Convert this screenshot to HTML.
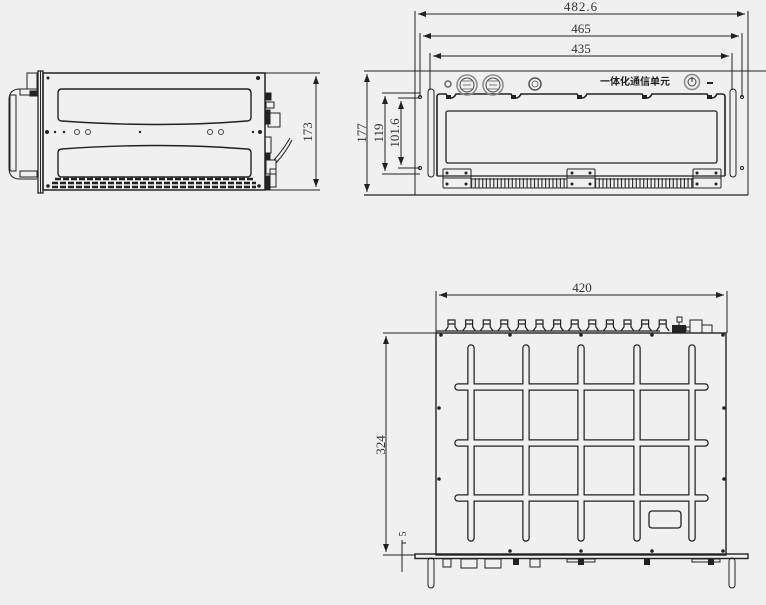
<!DOCTYPE html>
<html><head><meta charset="utf-8"><style>
html,body{margin:0;padding:0;background:#f0f0f0;}
svg{display:block;}
text{font-family:"Liberation Serif",serif;fill:#333;}
</style></head><body>
<svg width="766" height="605" viewBox="0 0 766 605" xmlns="http://www.w3.org/2000/svg">
<defs>
<marker id="a" markerWidth="8" markerHeight="6" refX="8" refY="3" orient="auto-start-reverse" markerUnits="userSpaceOnUse"><path d="M0,0 L8,3 L0,6 z" fill="#222"/></marker>
</defs>
<g stroke="#222" fill="none" stroke-width="1">
<!-- ========== SIDE VIEW ========== -->
<rect x="43" y="73" width="222" height="117" stroke-width="1.5"/>
<rect x="38" y="71" width="5" height="122" stroke-width="1.3"/>
<line x1="40.5" y1="71" x2="40.5" y2="193"/>
<path d="M37,89 H20 Q9,89 9,100 V168 Q9,179 20,179 H37"/>
<rect x="20" y="89" width="17" height="6"/>
<rect x="20" y="171" width="17" height="6"/>
<rect x="10" y="95" width="6" height="76"/>
<rect x="27" y="73" width="10" height="16"/>
<rect x="30" y="91" width="7" height="5" fill="#222"/>
<path d="M62,89 H247 Q251,89 251,93 V117 Q251,121 247,121 Q160,128 62,121 Q58,121 58,117 V93 Q58,89 62,89 Z" stroke-width="1.4"/>
<path d="M62,177 H247 Q251,177 251,173 V153 Q251,149 247,149 Q160,142 62,149 Q58,149 58,153 V173 Q58,177 62,177 Z" stroke-width="1.4"/>
<line x1="55" y1="179" x2="253" y2="179" stroke-width="2.6" stroke-dasharray="6,2"/>
<line x1="52" y1="183" x2="256" y2="183" stroke-width="2.6" stroke-dasharray="6,2"/>
<line x1="52" y1="187" x2="256" y2="187" stroke-width="2.6" stroke-dasharray="6,2"/>
<rect x="265" y="93" width="6" height="7" fill="#222"/>
<rect x="266" y="102" width="8" height="6"/>
<rect x="265" y="110" width="5" height="14" fill="#222"/>
<rect x="268" y="113" width="12" height="14"/>
<rect x="265" y="137" width="6" height="16"/>
<rect x="265" y="153" width="5" height="6" fill="#222"/>
<rect x="266" y="160" width="10" height="14"/>
<rect x="270" y="169" width="6" height="18"/>
<rect x="265" y="176" width="5" height="14" fill="#222"/>
<path d="M274,160 Q283,150 290,138 M276,163 Q286,152 292,140"/>
<line x1="265" y1="73" x2="320" y2="73"/>
<line x1="265" y1="190" x2="320" y2="190"/>
<line x1="316" y1="76" x2="316" y2="187" marker-start="url(#a)" marker-end="url(#a)"/>
</g>
<g fill="#222">
<circle cx="48" cy="78" r="1.5"/><circle cx="258" cy="78" r="2"/>
<circle cx="47" cy="132" r="2"/><circle cx="55" cy="132" r="1.2"/><circle cx="64" cy="132" r="1.2"/>
<circle cx="140" cy="132" r="1.2"/><circle cx="253" cy="132" r="1.2"/><circle cx="260" cy="132" r="2"/>
<circle cx="48" cy="186" r="1.8"/><circle cx="259" cy="186" r="1.8"/>
</g>
<g fill="none" stroke="#444"><circle cx="77" cy="132" r="2.5"/><circle cx="88" cy="132" r="2.5"/><circle cx="210" cy="132" r="2.5"/><circle cx="221" cy="132" r="2.5"/></g>
<text x="0" y="0" font-size="13" text-anchor="middle" transform="translate(312 132) rotate(-90)">173</text>

<!-- ========== FRONT VIEW ========== -->
<g stroke="#222" fill="none" stroke-width="1">
<line x1="415" y1="11" x2="415" y2="195"/>
<line x1="748" y1="11" x2="748" y2="195"/>
<line x1="418" y1="14" x2="745" y2="14" marker-start="url(#a)" marker-end="url(#a)"/>
<line x1="420" y1="33" x2="420" y2="97"/>
<line x1="742" y1="33" x2="742" y2="97"/>
<line x1="423" y1="36" x2="739" y2="36" marker-start="url(#a)" marker-end="url(#a)"/>
<line x1="430" y1="53" x2="430" y2="90"/>
<line x1="732" y1="53" x2="732" y2="90"/>
<line x1="433" y1="56" x2="729" y2="56" marker-start="url(#a)" marker-end="url(#a)"/>
<line x1="364" y1="71" x2="766" y2="71"/>
<line x1="364" y1="195" x2="748" y2="195" stroke-width="1.3"/>
<line x1="367" y1="74" x2="367" y2="192" marker-start="url(#a)" marker-end="url(#a)"/>
<line x1="382" y1="93" x2="420" y2="93"/>
<line x1="382" y1="174" x2="420" y2="174"/>
<line x1="385" y1="96" x2="385" y2="171" marker-start="url(#a)" marker-end="url(#a)"/>
<line x1="398" y1="98" x2="420" y2="98"/>
<line x1="398" y1="168" x2="420" y2="168"/>
<line x1="401" y1="101" x2="401" y2="165" marker-start="url(#a)" marker-end="url(#a)"/>
<rect x="428" y="89" width="6" height="88" rx="3"/>
<rect x="730" y="89" width="6" height="88" rx="3"/>
<circle cx="420" cy="97" r="1.5"/><circle cx="420" cy="168" r="1.5"/>
<circle cx="742" cy="97" r="1.5"/><circle cx="742" cy="168" r="1.5"/>
<path d="M437,176 V97 Q437,94 440,94 H446 Q448,98 451,98 Q454,98 456,94 H511 Q513,98 516,98 Q519,98 521,94 H577 Q579,98 582,98 Q585,98 587,94 H642 Q644,98 647,98 Q650,98 652,94 H707 Q709,98 712,98 Q715,98 717,94 H722 Q725,94 725,97 V176" stroke-width="1.6"/>
<line x1="437" y1="176" x2="725" y2="176" stroke-width="1.3"/>
<rect x="446" y="111" width="271" height="52" rx="2" stroke-width="1.3"/>
<rect x="443" y="169" width="28" height="19" rx="1"/>
<line x1="443" y1="178" x2="471" y2="178"/>
<rect x="567" y="169" width="28" height="19" rx="1"/>
<line x1="567" y1="178" x2="595" y2="178"/>
<rect x="693" y="169" width="28" height="19" rx="1"/>
<line x1="693" y1="178" x2="721" y2="178"/>
<path d="M471,179 H567 M595,179 H693 M471,188 H567 M595,188 H693" />
<line x1="471" y1="183" x2="567" y2="183" stroke-width="10" stroke-dasharray="1.2,2.5" stroke="#333"/>
<line x1="595" y1="183" x2="693" y2="183" stroke-width="10" stroke-dasharray="1.2,2.5" stroke="#333"/>
<circle cx="448" cy="84" r="3" stroke="#666" stroke-width="1.5"/>
<circle cx="467" cy="85" r="10" stroke="#888" stroke-width="1.5"/>
<circle cx="467" cy="85" r="7" stroke="#444"/>
<circle cx="493" cy="85" r="10" stroke="#888" stroke-width="1.5"/>
<circle cx="493" cy="85" r="7" stroke="#444"/>
<circle cx="535" cy="84" r="6" stroke="#555" stroke-width="1.5"/>
<circle cx="692" cy="82" r="7.5" stroke="#888" stroke-width="1.5"/>
<circle cx="692" cy="82" r="4" stroke="#444"/>
<line x1="692" y1="77" x2="692" y2="82"/>
<line x1="707" y1="83" x2="713" y2="83" stroke-width="2"/>
</g>
<g stroke="#555" fill="none" stroke-width="0.8">
<path d="M462,81 H472 M462,89 H472 M463,85 H471 M488,81 H498 M488,89 H498 M489,85 H497"/>
<circle cx="535" cy="84" r="3"/>
</g>
<g fill="#222">
<rect x="446" y="95" width="5" height="4"/><rect x="511" y="95" width="5" height="4"/><rect x="577" y="95" width="5" height="4"/>
<rect x="642" y="95" width="5" height="4"/><rect x="707" y="95" width="5" height="4"/>
<circle cx="447" cy="173" r="1.5"/><circle cx="466" cy="173" r="1.5"/><circle cx="447" cy="184" r="1.5"/><circle cx="466" cy="184" r="1.5"/>
<circle cx="572" cy="173" r="1.5"/><circle cx="590" cy="173" r="1.5"/><circle cx="572" cy="184" r="1.5"/><circle cx="590" cy="184" r="1.5"/>
<circle cx="697" cy="173" r="1.5"/><circle cx="716" cy="173" r="1.5"/><circle cx="697" cy="184" r="1.5"/><circle cx="716" cy="184" r="1.5"/>
</g>
<text x="635" y="85" font-size="10" font-weight="bold" text-anchor="middle" style="font-family:'Liberation Sans','Noto Sans CJK SC',sans-serif;fill:#222">一体化通信单元</text>
<text x="581" y="11" font-size="13" text-anchor="middle" letter-spacing="1">482.6</text>
<text x="581" y="33" font-size="13" text-anchor="middle">465</text>
<text x="581" y="53" font-size="13" text-anchor="middle">435</text>
<text x="0" y="0" font-size="13" text-anchor="middle" transform="translate(366 133) rotate(-90)">177</text>
<text x="0" y="0" font-size="13" text-anchor="middle" transform="translate(383 133) rotate(-90)">119</text>
<text x="0" y="0" font-size="13" text-anchor="middle" transform="translate(399 133) rotate(-90)">101.6</text>

<!-- ========== TOP VIEW ========== -->
<g stroke="#222" fill="none" stroke-width="1">
<line x1="436" y1="291" x2="436" y2="555"/>
<line x1="727" y1="291" x2="727" y2="333"/>
<line x1="439" y1="295" x2="724" y2="295" marker-start="url(#a)" marker-end="url(#a)"/>
<line x1="383" y1="333" x2="436" y2="333"/>
<line x1="383" y1="555" x2="415" y2="555"/>
<line x1="386" y1="336" x2="386" y2="552" marker-start="url(#a)" marker-end="url(#a)"/>
<line x1="402" y1="540" x2="402" y2="572"/>
<line x1="402" y1="543" x2="406" y2="543"/>
<rect x="436" y="333" width="290" height="222" stroke-width="1.4"/>
<rect x="415" y="554" width="333" height="4.5" stroke-width="1.4"/>
<rect x="428" y="558" width="6" height="30" rx="3"/>
<rect x="729" y="558" width="6" height="30" rx="3"/>
<line x1="436" y1="331" x2="660" y2="331" stroke-width="1.3"/>
<rect x="677" y="317" width="5" height="5"/>
<line x1="679" y1="322" x2="679" y2="326"/>
<rect x="690" y="320" width="12" height="13"/>
<rect x="702" y="325" width="10" height="8"/>
<rect x="686" y="327" width="4" height="4"/>
<g stroke="#222" stroke-width="7.5" stroke-linecap="round">
<line x1="471" y1="348" x2="471" y2="538"/><line x1="526" y1="348" x2="526" y2="538"/><line x1="581" y1="348" x2="581" y2="538"/><line x1="637" y1="348" x2="637" y2="538"/><line x1="692" y1="348" x2="692" y2="538"/>
<line x1="458" y1="387" x2="705" y2="387"/><line x1="458" y1="443" x2="705" y2="443"/><line x1="458" y1="498" x2="705" y2="498"/>
</g>
<g stroke="#f0f0f0" stroke-width="5" stroke-linecap="round">
<line x1="471" y1="348" x2="471" y2="538"/><line x1="526" y1="348" x2="526" y2="538"/><line x1="581" y1="348" x2="581" y2="538"/><line x1="637" y1="348" x2="637" y2="538"/><line x1="692" y1="348" x2="692" y2="538"/>
<line x1="458" y1="387" x2="705" y2="387"/><line x1="458" y1="443" x2="705" y2="443"/><line x1="458" y1="498" x2="705" y2="498"/>
</g>
<rect x="649" y="511" width="32" height="17" rx="3" stroke-width="1.3"/>
<rect x="443" y="559" width="8" height="8"/>
<rect x="461" y="559" width="16" height="9"/>
<rect x="485" y="559" width="16" height="9"/>
<rect x="530" y="559" width="10" height="8"/>
<rect x="567" y="559" width="28" height="3"/>
<rect x="692" y="559" width="28" height="3"/>
</g>
<g fill="#222">
<rect x="513" y="558" width="6" height="7"/><rect x="578" y="558" width="6" height="7"/><rect x="644" y="558" width="6" height="7"/><rect x="708" y="558" width="6" height="7"/>
<circle cx="441" cy="335" r="1.8"/><circle cx="510" cy="335" r="1.8"/><circle cx="581" cy="335" r="1.8"/><circle cx="652" cy="335" r="1.8"/><circle cx="723" cy="335" r="1.8"/>
<circle cx="439" cy="408" r="1.8"/><circle cx="724" cy="408" r="1.8"/><circle cx="439" cy="479" r="1.8"/><circle cx="724" cy="479" r="1.8"/>
<circle cx="510" cy="551" r="1.8"/><circle cx="581" cy="551" r="1.8"/><circle cx="652" cy="551" r="1.8"/><circle cx="723" cy="551" r="1.8"/>
<rect x="672" y="325" width="14" height="8"/>
</g>
<g fill="none" stroke="#222" stroke-width="1.2">
<path d="M445,331 L448,327 V320 H455 V327 L458,331 M462.6,331 L465.6,327 V320 H472.6 V327 L475.6,331 M480.2,331 L483.2,327 V320 H490.2 V327 L493.2,331 M497.8,331 L500.8,327 V320 H507.8 V327 L510.8,331 M515.4,331 L518.4,327 V320 H525.4 V327 L528.4,331 M533,331 L536,327 V320 H543 V327 L546,331 M550.6,331 L553.6,327 V320 H560.6 V327 L563.6,331 M568.2,331 L571.2,327 V320 H578.2 V327 L581.2,331 M585.8,331 L588.8,327 V320 H595.8 V327 L598.8,331 M603.4,331 L606.4,327 V320 H613.4 V327 L616.4,331 M621,331 L624,327 V320 H631 V327 L634,331 M638.6,331 L641.6,327 V320 H648.6 V327 L651.6,331 M656.2,331 L659.2,327 V320 H666.2 V327 L669.2,331"/>
<path d="M448,324 H455 M465.6,324 H472.6 M483.2,324 H490.2 M500.8,324 H507.8 M518.4,324 H525.4 M536,324 H543 M553.6,324 H560.6 M571.2,324 H578.2 M588.8,324 H595.8 M606.4,324 H613.4 M624,324 H631 M641.6,324 H648.6 M659.2,324 H666.2"/>
</g>
<text x="582" y="292" font-size="13" text-anchor="middle">420</text>
<text x="0" y="0" font-size="13" text-anchor="middle" transform="translate(385 445) rotate(-90)">324</text>
<text x="0" y="0" font-size="10" text-anchor="middle" transform="translate(406 534) rotate(-90)">5</text>
</svg>
</body></html>
